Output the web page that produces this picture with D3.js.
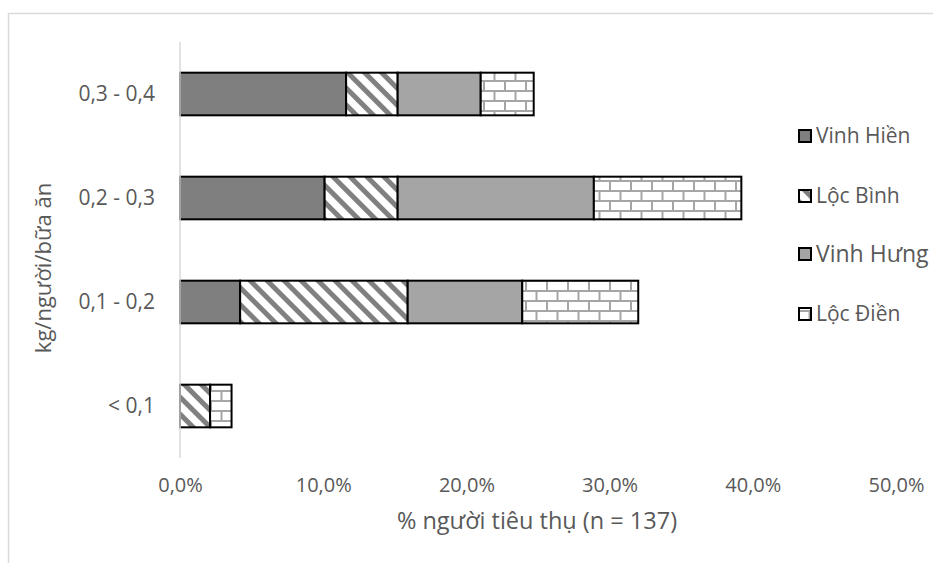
<!DOCTYPE html>
<html>
<head>
<meta charset="utf-8">
<script src="https://cdn.jsdelivr.net/npm/d3@7"></script>
<style>
  html, body { margin: 0; padding: 0; background: #fff; }
  svg { display: block; }
  text { font-family: "Open Sans", "Noto Sans", sans-serif; fill: #595959; }
</style>
</head>
<body>
<svg id="chart" width="933" height="563"></svg>
<script>
// Portion size classes (top to bottom as drawn)
const categories = ["0,3 - 0,4", "0,2 - 0,3", "0,1 - 0,2", "< 0,1"];
// Communes, in stacking order
const seriesNames = ["Vinh Hiền", "Lộc Bình", "Vinh Hưng", "Lộc Điền"];
// % of consumers (n = 137), same order as categories
const vinhHien = [11.6, 10.1, 4.2, 0];
const locBinh  = [3.6, 5.1, 11.7, 2.1];
const vinhHung = [5.8, 13.7, 8.0, 0];
const locDien  = [3.7, 10.3, 8.1, 1.5];
const xTicks = [0, 10, 20, 30, 40, 50];

const seriesValues = [vinhHien, locBinh, vinhHung, locDien];
const fills = ["#7f7f7f", "url(#stripes)", "#a5a5a5", "url(#bricks)"];

const svg = d3.select("#chart");

// Fill patterns
const defs = svg.append("defs");
const stripes = defs.append("pattern")
  .attr("id", "stripes").attr("patternUnits", "userSpaceOnUse")
  .attr("width", 12).attr("height", 12)
  .attr("patternTransform", "rotate(-45)");
stripes.append("rect").attr("width", 12).attr("height", 12).attr("fill", "#fff");
stripes.append("rect").attr("x", 0).attr("width", 5).attr("height", 12).attr("fill", "#808080");

const bricks = defs.append("pattern")
  .attr("id", "bricks").attr("patternUnits", "userSpaceOnUse")
  .attr("width", 21).attr("height", 20);
bricks.append("rect").attr("width", 21).attr("height", 20).attr("fill", "#fff");
const mortar = "#a6a6a6";
bricks.append("path")
  .attr("d", "M0,1H21 M0,11H21 M1,1V11 M11.5,11V21")
  .attr("stroke", mortar).attr("stroke-width", 2).attr("fill", "none");

// Outer frame
svg.append("rect")
  .attr("x", 8.5).attr("y", 13.5).attr("width", 1000).attr("height", 1000)
  .attr("fill", "none").attr("stroke", "#d9d9d9").attr("stroke-width", 1.5);

const x = d3.scaleLinear().domain([0, 50]).range([180, 896]);
const y = d3.scaleBand().domain(categories).range([42, 458])
  .paddingInner(0.59).paddingOuter(0.295);

// Stacked segments
const rows = categories.map((c, i) => {
  const r = { cat: c };
  seriesNames.forEach((s, k) => { r[s] = seriesValues[k][i]; });
  return r;
});
const stacked = d3.stack().keys(seriesNames)(rows);

stacked.forEach((layer, k) => {
  svg.append("g").selectAll("rect")
    .data(layer.filter(d => d[1] - d[0] > 0))
    .join("rect")
    .attr("x", d => x(d[0]))
    .attr("y", d => y(d.data.cat))
    .attr("width", d => x(d[1]) - x(d[0]))
    .attr("height", y.bandwidth())
    .attr("fill", fills[k])
    .attr("stroke", "#000")
    .attr("stroke-width", 2);
});

// Category axis line
svg.append("line")
  .attr("x1", x(0)).attr("x2", x(0)).attr("y1", 42).attr("y2", 458)
  .attr("stroke", "#d9d9d9").attr("stroke-width", 1.5);

// Category labels
const yAxis = d3.axisLeft(y).tickSize(0).tickPadding(0);
const yg = svg.append("g").attr("transform", "translate(155,0)").call(yAxis);
yg.select(".domain").remove();
yg.selectAll("text").attr("font-size", 21).attr("fill", "#595959")
  .style("font-family", "'Open Sans', sans-serif");

// Value labels
const fmt = v => d3.format(".1f")(v).replace(".", ",") + "%";
const xAxis = d3.axisBottom(x).tickValues(xTicks).tickFormat(fmt).tickSize(0).tickPadding(0);
const xg = svg.append("g").attr("transform", "translate(0,478)").call(xAxis);
xg.select(".domain").remove();
xg.selectAll("text").attr("font-size", 20).attr("fill", "#595959")
  .style("font-family", "'Open Sans', sans-serif");

// Axis titles
svg.append("text")
  .attr("x", 537).attr("y", 529).attr("text-anchor", "middle")
  .attr("font-size", 23.5).text("% người tiêu thụ (n = 137)");
svg.append("text")
  .attr("transform", "translate(51,268) rotate(-90)")
  .attr("text-anchor", "middle")
  .attr("font-size", 22).text("kg/người/bữa ăn");

// Legend
const legendY = [136, 196, 254, 314];
const legendSize = [21, 21, 23, 21];
const lg = svg.append("g");
seriesNames.forEach((s, k) => {
  lg.append("rect")
    .attr("x", 799).attr("y", legendY[k] - 6).attr("width", 12).attr("height", 12)
    .attr("fill", fills[k]).attr("stroke", "#000").attr("stroke-width", 2);
  lg.append("text")
    .attr("x", 816).attr("y", legendY[k]).attr("dy", "0.35em")
    .attr("font-size", legendSize[k]).text(s);
});
</script>
</body>
</html>
